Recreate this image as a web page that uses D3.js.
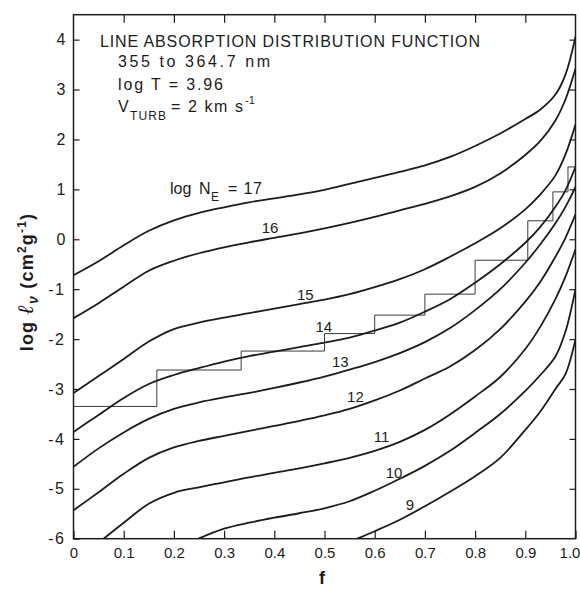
<!DOCTYPE html>
<html><head><meta charset="utf-8">
<script src="https://cdn.jsdelivr.net/npm/d3@7"></script>
<style>
html,body{margin:0;padding:0;background:#fff;}
svg{display:block;font-family:"Liberation Sans",Arial,sans-serif;}
</style></head>
<body><svg id="c" width="580" height="589"></svg>
<script>
// ---- data (f, log l_nu) ----
const levels = [17, 16, 15, 14, 13, 12, 11, 10, 9];
const n17 = [[0,-0.72],[0.05,-0.44],[0.1,-0.12],[0.15,0.17],[0.2,0.38],[0.25,0.53],[0.3,0.64],[0.35,0.74],[0.4,0.82],[0.45,0.9],[0.5,0.99],[0.55,1.11],[0.6,1.23],[0.65,1.35],[0.7,1.48],[0.75,1.65],[0.8,1.87],[0.85,2.12],[0.9,2.41],[0.93,2.6],[0.96,2.9],[0.98,3.3],[1.0,4.06]];
const n16 = [[0,-1.58],[0.05,-1.28],[0.1,-0.95],[0.15,-0.63],[0.2,-0.43],[0.25,-0.28],[0.3,-0.16],[0.35,-0.06],[0.4,0.03],[0.45,0.12],[0.5,0.22],[0.55,0.33],[0.6,0.45],[0.65,0.58],[0.7,0.71],[0.75,0.86],[0.8,1.05],[0.85,1.32],[0.9,1.69],[0.93,1.97],[0.96,2.38],[0.98,2.8],[1.0,3.42]];
const n15 = [[0,-3.08],[0.05,-2.74],[0.1,-2.4],[0.15,-2.05],[0.2,-1.8],[0.25,-1.67],[0.3,-1.57],[0.35,-1.48],[0.4,-1.39],[0.45,-1.3],[0.5,-1.21],[0.55,-1.1],[0.6,-0.96],[0.65,-0.8],[0.7,-0.6],[0.75,-0.35],[0.8,-0.08],[0.85,0.22],[0.9,0.6],[0.93,0.9],[0.96,1.28],[0.98,1.7],[1.0,2.3]];
const n14 = [[0,-3.86],[0.05,-3.52],[0.1,-3.18],[0.15,-2.9],[0.2,-2.72],[0.25,-2.58],[0.3,-2.45],[0.35,-2.34],[0.4,-2.25],[0.45,-2.16],[0.5,-2.07],[0.55,-1.97],[0.6,-1.83],[0.65,-1.67],[0.7,-1.45],[0.75,-1.2],[0.8,-0.87],[0.85,-0.5],[0.9,-0.07],[0.93,0.25],[0.96,0.65],[0.98,0.98],[1.0,1.45]];
const n13 = [[0,-4.56],[0.05,-4.19],[0.1,-3.87],[0.15,-3.6],[0.2,-3.4],[0.25,-3.27],[0.3,-3.17],[0.35,-3.08],[0.4,-2.98],[0.45,-2.87],[0.5,-2.75],[0.55,-2.61],[0.6,-2.46],[0.65,-2.28],[0.7,-2.06],[0.75,-1.78],[0.8,-1.42],[0.85,-1.0],[0.9,-0.47],[0.93,-0.1],[0.96,0.32],[0.98,0.65],[1.0,1.05]];
const n12 = [[0,-5.43],[0.05,-5.07],[0.1,-4.7],[0.15,-4.38],[0.2,-4.17],[0.25,-4.04],[0.3,-3.94],[0.35,-3.84],[0.4,-3.74],[0.45,-3.64],[0.5,-3.53],[0.55,-3.4],[0.6,-3.23],[0.65,-3.03],[0.7,-2.79],[0.75,-2.55],[0.8,-2.22],[0.85,-1.8],[0.9,-1.25],[0.93,-0.85],[0.96,-0.35],[0.98,0.03],[1.0,0.5]];
const n11 = [[0.06,-6.0],[0.1,-5.68],[0.15,-5.3],[0.2,-5.08],[0.25,-4.97],[0.3,-4.87],[0.35,-4.77],[0.4,-4.68],[0.45,-4.59],[0.5,-4.49],[0.55,-4.38],[0.6,-4.24],[0.65,-4.06],[0.7,-3.82],[0.75,-3.51],[0.8,-3.15],[0.85,-2.76],[0.9,-2.2],[0.93,-1.75],[0.96,-1.2],[0.98,-0.75],[1.0,-0.2]];
const n10 = [[0.249,-6.0],[0.3,-5.8],[0.35,-5.68],[0.4,-5.58],[0.45,-5.49],[0.5,-5.39],[0.55,-5.25],[0.6,-5.04],[0.65,-4.8],[0.7,-4.54],[0.75,-4.24],[0.8,-3.88],[0.85,-3.5],[0.9,-3.04],[0.93,-2.72],[0.96,-2.35],[0.98,-1.85],[1.0,-1.0]];
const n9  = [[0.565,-6.0],[0.6,-5.85],[0.65,-5.62],[0.7,-5.35],[0.75,-5.06],[0.8,-4.75],[0.85,-4.38],[0.9,-3.82],[0.93,-3.45],[0.96,-3.0],[0.98,-2.7],[1.0,-2.0]];
const series = [n17, n16, n15, n14, n13, n12, n11, n10, n9];

const stepEdges  = [0, 0.166, 0.334, 0.5, 0.6, 0.7, 0.8, 0.905, 0.955, 0.985, 1.0];
const stepValues = [-3.35, -2.62, -2.24, -1.89, -1.52, -1.10, -0.42, 0.37, 0.95, 1.45];

const yTicks = [-6,-5,-4,-3,-2,-1,0,1,2,3,4];
const xTicks = [0,0.1,0.2,0.3,0.4,0.5,0.6,0.7,0.8,0.9,1.0];
const xTickLabels = ["0","0.1","0.2","0.3","0.4","0.5","0.6","0.7","0.8","0.9","1.0"];
const curveLabels = ["16","15","14","13","12","11","10","9"];
const curveLabelPos = [[0.375,0.126],[0.445,-1.216],[0.482,-1.85],[0.515,-2.56],[0.545,-3.26],[0.598,-4.06],[0.622,-4.78],[0.662,-5.42]];

// ---- drawing ----
const svg = d3.select("#c");
const ink = "#1c1c1c";
const x = d3.scaleLinear([0,1],[73.5,575.5]);
const y = d3.scaleLinear([-6,4.5],[538.7,14.7]);

svg.append("defs").append("clipPath").attr("id","clip")
  .append("rect").attr("x",x(0)).attr("y",y(4.5)).attr("width",x(1)-x(0)).attr("height",y(-6)-y(4.5));

// axes
const gL = svg.append("g").attr("transform",`translate(${x(0)},0)`)
  .call(d3.axisLeft(y).tickValues(yTicks).tickSize(-6).tickPadding(8)
    .tickFormat(d => d < 0 ? "-" + Math.abs(d) : String(d)));
const gB = svg.append("g").attr("transform",`translate(0,${y(-6)})`)
  .call(d3.axisBottom(x).tickValues(xTicks).tickSize(-8).tickPadding(9)
    .tickFormat((d,i) => xTickLabels[i]));
const gT = svg.append("g").attr("transform",`translate(0,${y(4.5)})`)
  .call(d3.axisTop(x).tickValues(xTicks.slice(1,-1)).tickSize(-8).tickFormat(""));
const gR = svg.append("g").attr("transform",`translate(${x(1)},0)`)
  .call(d3.axisRight(y).tickValues(yTicks.slice(1)).tickSize(-6).tickFormat(""));
[gL,gB,gT,gR].forEach(g => {
  g.select(".domain").remove();
  g.selectAll("line").attr("stroke",ink).attr("stroke-width",1.2);
  g.selectAll("text").attr("fill",ink).attr("font-size",16).attr("font-family","Liberation Sans, Arial, sans-serif");
});
gL.selectAll("text").attr("letter-spacing",d => d < 0 ? 1.5 : 0);
gB.selectAll("text").attr("font-size",15);
gB.selectAll(".tick").filter(d => d === 1).select("text").attr("dx",-6);

// frame
svg.append("rect").attr("x",x(0)).attr("y",y(4.5)).attr("width",x(1)-x(0)).attr("height",y(-6)-y(4.5))
  .attr("fill","none").attr("stroke",ink).attr("stroke-width",1.5);

// staircase
const stepPts = stepValues.map((v,i)=>[stepEdges[i],v]);
stepPts.push([stepEdges[stepEdges.length-1], stepValues[stepValues.length-1]]);
svg.append("path").attr("clip-path","url(#clip)")
  .attr("d", d3.line().x(d=>x(d[0])).y(d=>y(d[1])).curve(d3.curveStepAfter)(stepPts))
  .attr("fill","none").attr("stroke","#3a3a3a").attr("stroke-width",1.0);

// curves
const line = d3.line().x(d=>x(d[0])).y(d=>y(d[1])).curve(d3.curveCatmullRom.alpha(0.5));
svg.append("g").attr("clip-path","url(#clip)").selectAll("path").data(series).join("path")
  .attr("d", line).attr("fill","none").attr("stroke",ink).attr("stroke-width",1.8);

// curve labels
svg.append("g").selectAll("text").data(curveLabels).join("text")
  .attr("x",(d,i)=>x(curveLabelPos[i][0])).attr("y",(d,i)=>y(curveLabelPos[i][1]))
  .attr("font-size",15).attr("fill",ink).text(d=>d);

const l17 = svg.append("g").attr("fill",ink).attr("font-size",16);
l17.append("text").attr("x",170).attr("y",194).text("log");
l17.append("text").attr("x",199).attr("y",194).text("N");
l17.append("text").attr("x",211).attr("y",201).attr("font-size",12).text("E");
l17.append("text").attr("x",228).attr("y",194).attr("textLength",34).attr("lengthAdjust","spacing").text("= " + levels[0]);

// title block
const tb = svg.append("g").attr("fill",ink).attr("font-size",16);
tb.append("text").attr("x",100).attr("y",46.5).attr("textLength",380).attr("lengthAdjust","spacing")
  .text("LINE ABSORPTION DISTRIBUTION FUNCTION");
tb.append("text").attr("x",118).attr("y",67).attr("textLength",152).attr("lengthAdjust","spacing")
  .text("355 to 364.7 nm");
tb.append("text").attr("x",118).attr("y",89.5).attr("textLength",105).attr("lengthAdjust","spacing")
  .text("log T = 3.96");
tb.append("text").attr("x",118).attr("y",111.5).text("V");
tb.append("text").attr("x",130).attr("y",120).attr("font-size",12).attr("textLength",36).attr("lengthAdjust","spacing").text("TURB");
tb.append("text").attr("x",171).attr("y",111.5).attr("textLength",72).attr("lengthAdjust","spacing").text("= 2 km s");
tb.append("text").attr("x",245).attr("y",104).attr("font-size",11).text("-1");

// axis titles
svg.append("text").attr("x",322).attr("y",584).attr("text-anchor","middle")
  .attr("font-size",18).attr("font-weight","bold").attr("fill",ink).text("f");

const yt = svg.append("text").attr("transform","translate(33,282) rotate(-90)")
  .attr("text-anchor","middle").attr("font-size",18).attr("font-weight","bold").attr("fill",ink)
  .attr("letter-spacing",1.2);
yt.append("tspan").text("log ");
yt.append("tspan").attr("font-style","italic").attr("font-size",22).attr("font-family","DejaVu Serif, serif").text("ℓ");
yt.append("tspan").attr("font-style","italic").attr("font-size",14).attr("dy",5).text("ν");
yt.append("tspan").attr("dy",-5).text(" (cm");
yt.append("tspan").attr("font-size",12).attr("dy",-7).text("2");
yt.append("tspan").attr("dy",7).text("g");
yt.append("tspan").attr("font-size",12).attr("dy",-7).text("-1");
yt.append("tspan").attr("dy",7).text(")");
</script></body></html>
